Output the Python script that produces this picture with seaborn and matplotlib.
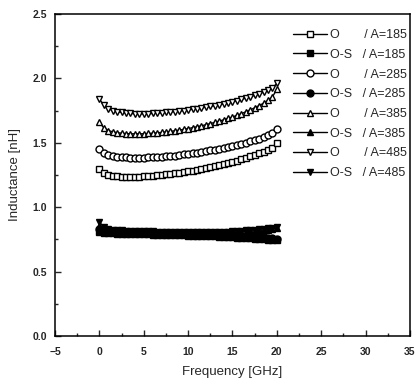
import numpy as np
import pandas as pd
import seaborn as sns
import matplotlib.pyplot as plt
from matplotlib.ticker import MultipleLocator

# frequency grid [GHz]
freq = np.arange(0, 20.5, 0.5)

# inductance [nH], open structure (O)
o_185 = [1.295, 1.263, 1.25, 1.243, 1.239, 1.237, 1.236, 1.236, 1.237, 1.238, 1.24,
         1.242, 1.245, 1.248, 1.251, 1.255, 1.259, 1.263, 1.268, 1.273, 1.278,
         1.284, 1.29, 1.296, 1.303, 1.31, 1.318, 1.326, 1.334, 1.343, 1.352,
         1.362, 1.372, 1.383, 1.394, 1.406, 1.418, 1.431, 1.445, 1.463, 1.50]
o_285 = [1.455, 1.42, 1.405, 1.397, 1.392, 1.388, 1.386, 1.385, 1.384, 1.384, 1.385,
         1.386, 1.388, 1.39, 1.392, 1.395, 1.398, 1.401, 1.405, 1.409, 1.413,
         1.418, 1.423, 1.428, 1.434, 1.44, 1.446, 1.453, 1.46, 1.467, 1.475,
         1.483, 1.492, 1.501, 1.511, 1.521, 1.532, 1.544, 1.557, 1.574, 1.61]
o_385 = [1.66, 1.615, 1.595, 1.585, 1.578, 1.574, 1.571, 1.57, 1.569, 1.569, 1.57,
         1.572, 1.574, 1.577, 1.58, 1.584, 1.588, 1.593, 1.598, 1.604, 1.61,
         1.617, 1.624, 1.632, 1.64, 1.649, 1.658, 1.668, 1.678, 1.689, 1.70,
         1.713, 1.726, 1.74, 1.755, 1.771, 1.788, 1.807, 1.828, 1.855, 1.915]
o_485 = [1.84, 1.79, 1.765, 1.75, 1.74, 1.735, 1.73, 1.727, 1.725, 1.724, 1.724,
         1.725, 1.727, 1.729, 1.732, 1.735, 1.738, 1.742, 1.746, 1.75, 1.755,
         1.76, 1.765, 1.77, 1.776, 1.782, 1.788, 1.795, 1.802, 1.81, 1.818,
         1.827, 1.836, 1.846, 1.857, 1.868, 1.88, 1.893, 1.907, 1.925, 1.96]

# inductance [nH], with shield (O-S)
os_185 = [0.805, 0.80, 0.798, 0.797, 0.796, 0.795, 0.794, 0.793, 0.792, 0.791, 0.79,
          0.789, 0.788, 0.787, 0.786, 0.785, 0.784, 0.783, 0.782, 0.781, 0.78,
          0.779, 0.778, 0.777, 0.776, 0.775, 0.773, 0.772, 0.77, 0.768, 0.766,
          0.764, 0.762, 0.76, 0.758, 0.756, 0.753, 0.751, 0.748, 0.746, 0.743]
os_285 = [0.83, 0.815, 0.812, 0.81, 0.809, 0.808, 0.807, 0.806, 0.805, 0.804, 0.803,
          0.802, 0.801, 0.80, 0.799, 0.798, 0.797, 0.796, 0.795, 0.794, 0.793,
          0.792, 0.791, 0.79, 0.789, 0.788, 0.786, 0.785, 0.783, 0.782, 0.78,
          0.778, 0.776, 0.774, 0.772, 0.77, 0.767, 0.765, 0.762, 0.759, 0.755]
os_385 = [0.855, 0.825, 0.818, 0.815, 0.813, 0.811, 0.81, 0.808, 0.807, 0.806, 0.805,
          0.804, 0.803, 0.802, 0.801, 0.80, 0.799, 0.798, 0.797, 0.797, 0.796,
          0.796, 0.796, 0.796, 0.796, 0.797, 0.798, 0.799, 0.80, 0.802, 0.804,
          0.806, 0.808, 0.811, 0.814, 0.817, 0.82, 0.823, 0.827, 0.831, 0.836]
os_485 = [0.885, 0.845, 0.83, 0.825, 0.822, 0.82, 0.818, 0.817, 0.816, 0.815, 0.814,
          0.813, 0.812, 0.811, 0.81, 0.809, 0.808, 0.807, 0.806, 0.805, 0.805,
          0.805, 0.805, 0.805, 0.805, 0.806, 0.807, 0.808, 0.809, 0.811, 0.813,
          0.815, 0.818, 0.821, 0.824, 0.827, 0.83, 0.834, 0.838, 0.842, 0.847]

areas = ['185', '285', '385', '485']
markers = ['s', 'o', '^', 'v']
open_series = [o_185, o_285, o_385, o_485]
shield_series = [os_185, os_285, os_385, os_485]

sns.set_style('ticks')
plt.rcParams['font.family'] = ['Liberation Sans', 'DejaVu Sans']

fig = plt.figure(figsize=(4.17, 3.85), dpi=100)
ax = fig.add_axes([0.132, 0.127, 0.851, 0.837])

for a, m, yo, ys in zip(areas, markers, open_series, shield_series):
    sns.lineplot(x=freq, y=yo, ax=ax, color='k', lw=1, marker=m, ms=5,
                 mfc='white', mec='k', mew=1.0, label=f'O       / A={a}')
    sns.lineplot(x=freq, y=ys, ax=ax, color='k', lw=1, marker=m, ms=5,
                 mfc='k', mec='k', mew=1.0, label=f'O-S   / A={a}')

ax.set_xlim(-5, 35)
ax.set_ylim(0, 2.5)
ax.xaxis.set_major_locator(MultipleLocator(5))
ax.xaxis.set_minor_locator(MultipleLocator(2.5))
ax.yaxis.set_major_locator(MultipleLocator(0.5))
ax.yaxis.set_minor_locator(MultipleLocator(0.25))
ax.tick_params(which='both', direction='in', top=False, right=False, width=1)
ax.tick_params(which='major', length=4, labelsize=7.5)
ax.tick_params(axis='x', pad=8)
ax.tick_params(axis='y', pad=6)
ax.tick_params(which='minor', length=2)
for lab in ax.get_xticklabels() + ax.get_yticklabels():
    lab.set_fontweight('bold')
for sp in ax.spines.values():
    sp.set_linewidth(1.1)
    sp.set_color('k')

ax.set_xlabel('Frequency [GHz]', fontsize=9.5, labelpad=6)
ax.set_ylabel('Inductance [nH]', fontsize=9.5, labelpad=8)

ax.legend(loc='upper left', bbox_to_anchor=(293 / 417, 1 - 29 / 385),
          bbox_transform=fig.transFigure, frameon=False, fontsize=9,
          handlelength=2.7, handletextpad=0.25, labelspacing=0.62,
          borderaxespad=0, borderpad=0)

fig.savefig('out.png', dpi=100)
